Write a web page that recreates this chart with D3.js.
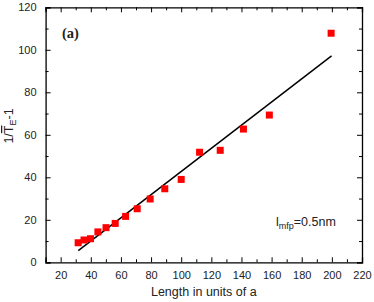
<!DOCTYPE html>
<meta charset="utf-8">
<script src="https://d3js.org/d3.v7.min.js"></script>
<style>
  body { margin: 0; background: #fff; }
  text { font-family: "Liberation Sans", Arial, sans-serif; fill: #222; }
</style>
<body></body>
<script>

// data
var lengths = [31.6, 35.5, 39.8, 44.7, 50.1, 56.2, 63.1, 70.8, 79.4, 89.1, 100, 112.2, 125.9, 141.3, 158.5, 199.5];
var values  = [9.2, 10.5, 11.1, 14.3, 16.3, 18.3, 21.6, 25.2, 29.8, 34.6, 39.0, 51.8, 52.7, 62.7, 69.3, 107.8];
var fitX = [31.7, 199.8];
var fitY = [5.5, 97.1];
var xTicks = [20, 40, 60, 80, 100, 120, 140, 160, 180, 200, 220];
var yTicks = [0, 20, 40, 60, 80, 100, 120];

var W = 374, H = 302;
var margin = {left: 45.6, right: 12, top: 7.3, bottom: 39.7};
var width = W - margin.left - margin.right;
var height = H - margin.top - margin.bottom;

var svg = d3.select("body").append("svg")
  .attr("width", W)
  .attr("height", H);

var g = svg.append("g")
  .attr("transform", `translate(${margin.left},${margin.top})`);

var xScale = d3.scaleLinear().domain([10, 220]).range([0, width]);
var yScale = d3.scaleLinear().domain([0, 120]).range([height, 0]);

var minorX = d3.range(10, 221, 10).filter(d => d % 20 != 0);
var minorY = d3.range(10, 121, 20);

// ticks, all pointing inward
function drawAxis(axis, major, minor, transform, labels) {
  var a = g.append("g").attr("transform", transform);
  a.call(axis.tickValues(major).tickSize(-5).tickPadding(labels ? 9 : 0)
    .tickFormat(labels ? d3.format("d") : ""));
  a.append("g").call(axis.tickValues(minor).tickSize(-3).tickFormat(""))
    .select(".domain").remove();
  a.selectAll("line").attr("stroke", "#000");
  a.selectAll(".domain").attr("stroke", "#000").attr("stroke-width", 1.3);
  a.selectAll("text").style("font-size", "11px").attr("fill", "#222");
  return a;
}

drawAxis(d3.axisBottom(xScale), xTicks, minorX, `translate(0,${height})`, true);
drawAxis(d3.axisTop(xScale), xTicks, minorX, "translate(0,0)", false);
drawAxis(d3.axisLeft(yScale), yTicks, minorY, "translate(0,0)", true);
drawAxis(d3.axisRight(yScale), yTicks, minorY, `translate(${width},0)`, false);

// fit line
g.append("line")
  .attr("x1", xScale(fitX[0])).attr("y1", yScale(fitY[0]))
  .attr("x2", xScale(fitX[1])).attr("y2", yScale(fitY[1]))
  .attr("stroke", "#000")
  .attr("stroke-width", 1.5);

// points
var s = 7;
g.selectAll(".pt")
  .data(lengths)
  .enter().append("rect")
  .attr("class", "pt")
  .attr("x", (d, i) => xScale(d) - s / 2)
  .attr("y", (d, i) => yScale(values[i]) - s / 2)
  .attr("width", s)
  .attr("height", s)
  .attr("fill", "#ff0000");

// labels
svg.append("text")
  .attr("x", margin.left + width / 2)
  .attr("y", 296)
  .attr("text-anchor", "middle")
  .style("font-size", "12.5px")
  .text("Length in units of a");

var yl = svg.append("text")
  .attr("transform", "translate(13,126) rotate(-90)")
  .attr("text-anchor", "middle")
  .style("font-size", "12.5px");
yl.append("tspan").text("1/");
yl.append("tspan").style("text-decoration", "overline").text("T");
yl.append("tspan").attr("dy", 3).style("font-size", "9px").text("E");
yl.append("tspan").attr("dy", -3).text("-1");

svg.append("text")
  .attr("x", 62)
  .attr("y", 38)
  .style("font-family", "'Liberation Serif', 'Times New Roman', serif")
  .style("font-weight", "bold")
  .style("font-size", "14.5px")
  .attr("fill", "#000")
  .text("(a)");

var lm = svg.append("text")
  .attr("x", 276)
  .attr("y", 226)
  .style("font-size", "12.5px");
lm.append("tspan").text("l");
lm.append("tspan").attr("dy", 3).style("font-size", "9px").text("mfp");
lm.append("tspan").attr("dy", -3).text("=0.5nm");

</script>
